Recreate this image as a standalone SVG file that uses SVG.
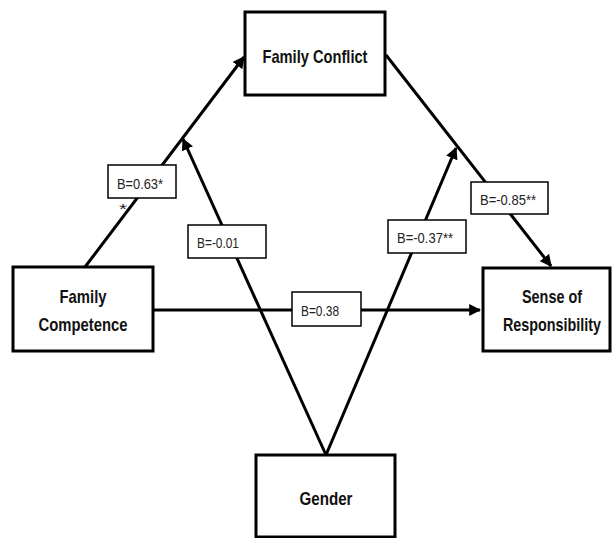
<svg xmlns="http://www.w3.org/2000/svg" width="612" height="538" viewBox="0 0 612 538">
<style>
.node{fill:#fff;stroke:#000;stroke-width:3}
.nt{font-family:"Liberation Sans",Arial,sans-serif;font-weight:bold;font-size:18.5px;fill:#111;text-anchor:middle}
.edge{stroke:#000;stroke-width:3;fill:none}
.lb{fill:#fff;stroke:#000;stroke-width:1.5}
.lt{font-family:"Liberation Sans",Arial,sans-serif;font-size:15px;fill:#222}
</style>
<defs>
<marker id="ah" viewBox="0 0 10 10" refX="9" refY="5" markerWidth="4" markerHeight="4" orient="auto" markerUnits="strokeWidth">
<path d="M0,0 L10,5 L0,10 Z" fill="#000"/>
</marker>
</defs>
<rect width="612" height="538" fill="#fff"/>
<g id="connectors">
<line class="edge" x1="85" y1="267" x2="244" y2="57" marker-end="url(#ah)"/>
<line class="edge" x1="386" y1="55" x2="551" y2="266" marker-end="url(#ah)"/>
<line class="edge" x1="153" y1="310" x2="480" y2="310" marker-end="url(#ah)"/>
<line class="edge" x1="326" y1="455" x2="183" y2="139" marker-end="url(#ah)"/>
<line class="edge" x1="326" y1="455" x2="456" y2="148" marker-end="url(#ah)"/>
</g>
<g id="label-063">
<rect class="lb" x="108" y="165" width="68" height="33"/>
<text class="lt" x="117" y="189" textLength="46" lengthAdjust="spacingAndGlyphs">B=0.63*</text>
<text class="lt" x="119" y="214" textLength="8" lengthAdjust="spacingAndGlyphs">*</text>
</g>
<g id="label-001">
<rect class="lb" x="188" y="225" width="78" height="33"/>
<text class="lt" x="197" y="248" textLength="42" lengthAdjust="spacingAndGlyphs">B=-0.01</text>
</g>
<g id="label-085">
<rect class="lb" x="471" y="182" width="77" height="32"/>
<text class="lt" x="480" y="205" textLength="56" lengthAdjust="spacingAndGlyphs">B=-0.85**</text>
</g>
<g id="label-037">
<rect class="lb" x="388" y="220" width="78" height="33"/>
<text class="lt" x="397" y="243" textLength="56" lengthAdjust="spacingAndGlyphs">B=-0.37**</text>
</g>
<g id="label-038">
<rect class="lb" x="292" y="292" width="69" height="34"/>
<text class="lt" x="301" y="316" textLength="38" lengthAdjust="spacingAndGlyphs">B=0.38</text>
</g>
<g id="family-conflict">
<rect class="node" x="245" y="12" width="140" height="83"/>
<text class="nt" x="315" y="63" textLength="105" lengthAdjust="spacingAndGlyphs">Family Conflict</text>
</g>
<g id="family-competence">
<rect class="node" x="13" y="267" width="140" height="84"/>
<text class="nt" x="83" y="303" textLength="47" lengthAdjust="spacingAndGlyphs">Family</text>
<text class="nt" x="83" y="331" textLength="89" lengthAdjust="spacingAndGlyphs">Competence</text>
</g>
<g id="sense-of-responsibility">
<rect class="node" x="483" y="268" width="127" height="83"/>
<text class="nt" x="552" y="303" textLength="60" lengthAdjust="spacingAndGlyphs">Sense of</text>
<text class="nt" x="552" y="331" font-size="16.5" textLength="98" lengthAdjust="spacingAndGlyphs">Responsibility</text>
</g>
<g id="gender">
<rect class="node" x="256" y="455" width="139" height="82"/>
<text class="nt" x="326" y="505" textLength="53" lengthAdjust="spacingAndGlyphs">Gender</text>
</g>
</svg>
